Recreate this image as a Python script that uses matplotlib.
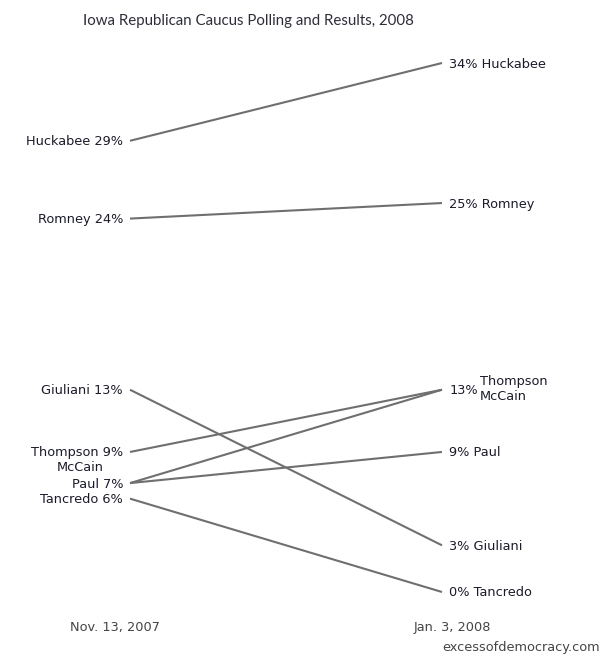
import matplotlib
matplotlib.use("Agg")
import matplotlib.pyplot as plt
from matplotlib.transforms import offset_copy
from matplotlib import font_manager

candidates = ["Huckabee", "Romney", "Giuliani", "Thompson", "McCain", "Paul", "Tancredo"]
nov_2007 = [29, 24, 13, 9, 7, 7, 6]
jan_2008 = [34, 25, 3, 13, 13, 9, 0]
dates = ["Nov. 13, 2007", "Jan. 3, 2008"]
title = "Iowa Republican Caucus Polling and Results, 2008"
source = "excessofdemocracy.com"

W, H = 602, 656
fig = plt.figure(figsize=(W / 100, H / 100), dpi=100)
x0, x1 = 130, 442
ytop, ybot = 63, 592
ax = fig.add_axes([x0 / W, (H - ybot) / H, (x1 - x0) / W, (ybot - ytop) / H])
ax.set_xlim(0, 1)
ax.set_ylim(0, 34)
ax.axis("off")

line_color = "#6f6f6f"
text_color = "#1a1a2a"
fs = 9.3
font = "DejaVu Sans"

for name, a, b in zip(candidates, nov_2007, jan_2008):
    ax.plot([0, 1], [a, b], color=line_color, lw=1.5, clip_on=False, solid_capstyle="butt")

def off(dx, dy):
    return offset_copy(ax.transData, fig=fig, x=dx, y=dy, units="dots")

# Left labels
for name, a in zip(candidates, nov_2007):
    if name == "McCain":
        ax.text(0, a, "McCain", transform=off(-26, 16), ha="right", va="center",
                fontsize=fs, family=font, color=text_color)
        continue
    ax.text(0, a, f"{name} {a}%", transform=off(-7, -1), ha="right", va="center",
            fontsize=fs, family=font, color=text_color)

# Right labels
for name, b in zip(candidates, jan_2008):
    if name in ("Thompson", "McCain"):
        continue
    ax.text(1, b, f"{b}% {name}", transform=off(7, -1), ha="left", va="center",
            fontsize=fs, family=font, color=text_color)
ax.text(1, 13, "13%", transform=off(8, -1), ha="left", va="center",
        fontsize=fs, family=font, color=text_color)
ax.text(1, 13, "Thompson", transform=off(38, 8), ha="left", va="center",
        fontsize=fs, family=font, color=text_color)
ax.text(1, 13, "McCain", transform=off(38, -7), ha="left", va="center",
        fontsize=fs, family=font, color=text_color)

# Dates
fig.text(115 / W, 1 - 627 / H, dates[0], ha="center", va="center",
         fontsize=fs, family=font, color="#444444")
fig.text(452 / W, 1 - 627 / H, dates[1], ha="center", va="center",
         fontsize=fs, family=font, color="#444444")
fig.text(600 / W, 1 - 647 / H, source, ha="right", va="center",
         fontsize=fs, family=font, color="#444444")

names = {f.name for f in font_manager.fontManager.ttflist}
if "Liberation Sans Narrow" in names:
    tfont, tsize = "Liberation Sans Narrow", 12.5
else:
    tfont, tsize = "Lato", 10.8
fig.text(248 / W, 1 - 21 / H, title, ha="center", va="center",
         fontsize=tsize, family=tfont, color="#2e2e3a")

fig.savefig("out.png", dpi=100)
